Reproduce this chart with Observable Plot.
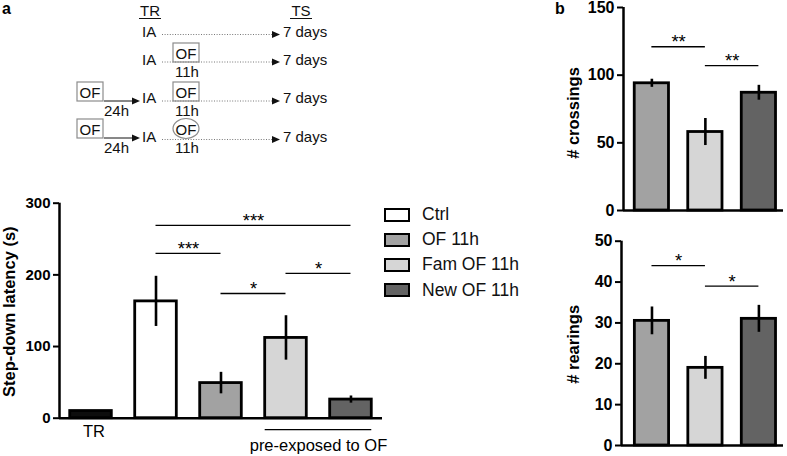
<!DOCTYPE html>
<html><head><meta charset="utf-8">
<script src="https://cdn.jsdelivr.net/npm/d3@7"></script>
<script src="https://cdn.jsdelivr.net/npm/@observablehq/plot@0.6"></script>
<style>
html,body{margin:0;padding:0;background:#fff;}
#fig{position:relative;width:787px;height:456px;overflow:hidden;background:#fff;font-family:"Liberation Sans",Arial,sans-serif;color:#000;}
.abs{position:absolute;}
.abs svg{overflow:visible;}
</style></head><body><div id="fig"></div>
<script>
// ---------- Panel a data ----------
const groupsA = ["TR", "Ctrl", "OF 11h", "Fam OF 11h", "New OF 11h"];
const latency = [10, 163, 49, 112, 26];
const latencySem = [0, 35, 15, 31, 5];
const groupColors = ["#0d0d0d", "#ffffff", "#a2a2a2", "#d6d6d6", "#636363"];
const latencyTicks = [0, 100, 200, 300];
const sigA = [
  {from: "Ctrl", to: "New OF 11h", level: 269, label: "***"},
  {from: "Ctrl", to: "OF 11h", level: 230, label: "***"},
  {from: "OF 11h", to: "Fam OF 11h", level: 174, label: "*"},
  {from: "Fam OF 11h", to: "New OF 11h", level: 202, label: "*"}
];
const preExposed = {from: "Fam OF 11h", to: "New OF 11h", label: "pre-exposed to OF"};
const legendGroups = ["Ctrl", "OF 11h", "Fam OF 11h", "New OF 11h"];

// ---------- Panel b data ----------
const groupsB = ["OF 11h", "Fam OF 11h", "New OF 11h"];
const crossings = [94, 58, 87];
const crossingsSem = [3, 10, 5.5];
const crossingTicks = [0, 50, 100, 150];
const sigCrossings = [
  {from: "OF 11h", to: "Fam OF 11h", level: 121, label: "**"},
  {from: "Fam OF 11h", to: "New OF 11h", level: 107, label: "**"}
];
const rearings = [30.5, 19, 31];
const rearingsSem = [3.4, 2.8, 3.3];
const rearingTicks = [0, 10, 20, 30, 40, 50];
const sigRearings = [
  {from: "OF 11h", to: "Fam OF 11h", level: 44, label: "*"},
  {from: "Fam OF 11h", to: "New OF 11h", level: 39, label: "*"}
];

const FONT = "'Liberation Sans', Arial, sans-serif";
const colorOf = g => groupColors[groupsA.indexOf(g)];
const fig = document.getElementById("fig");

function place(node, left, top) {
  const d = document.createElement("div");
  d.className = "abs";
  d.style.left = left + "px";
  d.style.top = top + "px";
  d.appendChild(node);
  fig.appendChild(d);
  return d;
}

function barPanel(o) {
  const hw = 0.32;
  const data = o.groups.map((g, i) => ({g, i, v: o.values[i], e: o.sem[i], c: colorOf(g)}));
  const idx = g => o.groups.indexOf(g);
  const marks = [
    Plot.rect(data, {x1: d => d.i - hw, x2: d => d.i + hw, y1: () => 0, y2: "v", fill: "c", stroke: "#000", strokeWidth: 2.8}),
    Plot.ruleX(data.filter(d => d.e > 0), {x: "i", y1: d => d.v - d.e, y2: d => d.v + d.e, stroke: "#000", strokeWidth: 2.6}),
    Plot.ruleY([o.yDomain[0]], {stroke: "#000", strokeWidth: 2.5}),
    Plot.ruleX([o.xDomain[0]], {y1: () => o.yDomain[0], y2: () => o.yDomain[1], stroke: "#000", strokeWidth: 2.5}),
    Plot.axisY({ticks: o.ticks, tickSize: 6, tickPadding: 3, fontSize: o.tickFont, fontWeight: "bold", strokeWidth: 2, label: null, fill: "#000", stroke: "#000"}),
    Plot.ruleY(o.sig, {x1: d => idx(d.from), x2: d => idx(d.to), y: "level", stroke: "#000", strokeWidth: 1.3}),
    Plot.text(o.sig, {x: d => (idx(d.from) + idx(d.to)) / 2, y: "level", text: "label", lineAnchor: "bottom", fontSize: 18.5, dy: 1.5, fill: "#000"}),
    Plot.text([o.title], {frameAnchor: "left", rotate: -90, lineAnchor: "top", textAnchor: "middle", dx: o.titleDx, dy: o.titleDy, fontSize: o.titleFont, fontWeight: "bold", fill: "#000"})
  ];
  if (o.extra) marks.push(...o.extra(idx, hw));
  return Plot.plot({
    width: o.width, height: o.height,
    marginLeft: o.margin[3], marginRight: o.margin[1], marginTop: o.margin[0], marginBottom: o.margin[2],
    x: {domain: o.xDomain, axis: null},
    y: {domain: o.yDomain, axis: null},
    color: {type: "identity"},
    style: {fontFamily: FONT, color: "#000", background: "transparent", overflow: "visible"},
    marks
  });
}

// ---------- Panel a chart ----------
place(barPanel({
  groups: groupsA, values: latency, sem: latencySem, ticks: latencyTicks,
  xDomain: [-0.485, 4.485], yDomain: [0, 300],
  width: 390, height: 266, margin: [12.7, 8, 38.3, 59],
  tickFont: 15, title: "Step-down latency (s)", titleFont: 16.5, titleDx: -56, titleDy: 1,
  sig: sigA,
  extra: (idx, hw) => [
    Plot.axisX({ticks: [groupsA.indexOf("TR")], tickFormat: i => groupsA[i], tickSize: 0, tickPadding: 7, fontSize: 16.5, label: null, fill: "#000", dx: 3}),
    Plot.ruleY([preExposed], {x1: d => idx(d.from) - hw, x2: d => idx(d.to) + hw, y: () => 0, dy: 11.5, stroke: "#000", strokeWidth: 1.3}),
    Plot.text([preExposed], {x: d => (idx(d.from) + idx(d.to)) / 2, y: () => 0, text: "label", dy: 27.5, lineAnchor: "middle", fontSize: 16.5, fill: "#000"})
  ]
}), 0, 190);

// ---------- Panel b charts ----------
place(barPanel({
  groups: groupsB, values: crossings, sem: crossingsSem, ticks: crossingTicks,
  xDomain: [-0.53, 2.46], yDomain: [0, 150],
  width: 227, height: 222, margin: [7, 4, 12, 63],
  tickFont: 16, title: "# crossings", titleFont: 16.5, titleDx: -56, titleDy: 4,
  sig: sigCrossings
}), 560, 0);

place(barPanel({
  groups: groupsB, values: rearings, sem: rearingsSem, ticks: rearingTicks,
  xDomain: [-0.57, 2.46], yDomain: [0, 50],
  width: 227, height: 231, margin: [15.7, 4, 11, 61],
  tickFont: 16, title: "# rearings", titleFont: 16.5, titleDx: -54, titleDy: 1,
  sig: sigRearings
}), 560, 225);

// ---------- Legend ----------
const leg = document.createElement("div");
legendGroups.forEach((g, k) => {
  const row = document.createElement("div");
  row.style.cssText = `position:absolute;left:0;top:${k * 25.2}px;height:20px;display:flex;align-items:center;white-space:nowrap;`;
  const sw = document.createElement("span");
  sw.style.cssText = `display:inline-block;width:22px;height:10px;border:2px solid #000;background:${colorOf(g)};margin-right:12px;`;
  const t = document.createElement("span");
  t.textContent = g;
  t.style.cssText = `font-size:17.5px;font-family:${FONT};color:#111;`;
  row.appendChild(sw); row.appendChild(t);
  leg.appendChild(row);
});
place(leg, 384, 204.5);

// ---------- Panel letters ----------
["a", "b"].forEach((l, k) => {
  const s = document.createElement("div");
  s.textContent = l;
  s.style.cssText = `font-weight:bold;font-size:16px;font-family:${FONT};line-height:16px;`;
  place(s, k === 0 ? 2 : 555, 1);
});

// ---------- Protocol schematic (panel a, top) ----------
const NS = "http://www.w3.org/2000/svg";
const sch = document.createElementNS(NS, "svg");
sch.setAttribute("width", 380); sch.setAttribute("height", 165);
sch.setAttribute("font-family", FONT); sch.setAttribute("font-size", 15);
function el(name, attrs, text) {
  const e = document.createElementNS(NS, name);
  for (const k in attrs) e.setAttribute(k, attrs[k]);
  if (text) e.textContent = text;
  sch.appendChild(e); return e;
}
function txt(x, y, s, anchor = "start") { el("text", {x, y, "text-anchor": anchor, fill: "#111"}, s); }
function arrowHead(x, y) { el("path", {d: `M${x},${y - 3.5}L${x + 8},${y}L${x},${y + 3.5}Z`, fill: "#111"}); }
function box(x, y, w, h) { el("rect", {x, y, width: w, height: h, fill: "none", stroke: "#8c8c8c", "stroke-width": 1.2}); }
txt(150, 16, "TR", "middle"); el("line", {x1: 139, x2: 161, y1: 18.5, y2: 18.5, stroke: "#111", "stroke-width": 1});
txt(301, 16, "TS", "middle"); el("line", {x1: 290, x2: 312, y1: 18.5, y2: 18.5, stroke: "#111", "stroke-width": 1});
const rows = [
  {base: 37, line: 34.5},
  {base: 65, line: 62, mid: "box", midTop: 43},
  {base: 103, line: 101, mid: "box", midTop: 82, pre: true},
  {base: 142, line: 139.5, mid: "ellipse", midTop: 119, pre: true}
];
rows.forEach(r => {
  txt(142, r.base, "IA");
  el("line", {x1: 162, x2: 272, y1: r.line, y2: r.line, stroke: "#777", "stroke-width": 1, "stroke-dasharray": "1,1.6"});
  arrowHead(272, r.line);
  txt(283, r.base, "7 days");
  if (r.mid === "box") box(173, r.midTop, 26, 19);
  if (r.mid === "ellipse") el("ellipse", {cx: 186, cy: r.midTop + 9.5, rx: 13, ry: 10, fill: "none", stroke: "#8c8c8c", "stroke-width": 1.2});
  if (r.mid) { txt(186, r.midTop + 15.5, "OF", "middle"); txt(187, r.midTop + 34, "11h", "middle"); }
  if (r.pre) {
    box(77, r.midTop, 26, 19);
    txt(90, r.midTop + 15.5, "OF", "middle");
    el("line", {x1: 104, x2: 132, y1: r.midTop + 19, y2: r.midTop + 19, stroke: "#111", "stroke-width": 1});
    arrowHead(132, r.midTop + 19);
    txt(116.5, r.midTop + 34, "24h", "middle");
  }
});
place(sch, 0, 0);
</script></body></html>
